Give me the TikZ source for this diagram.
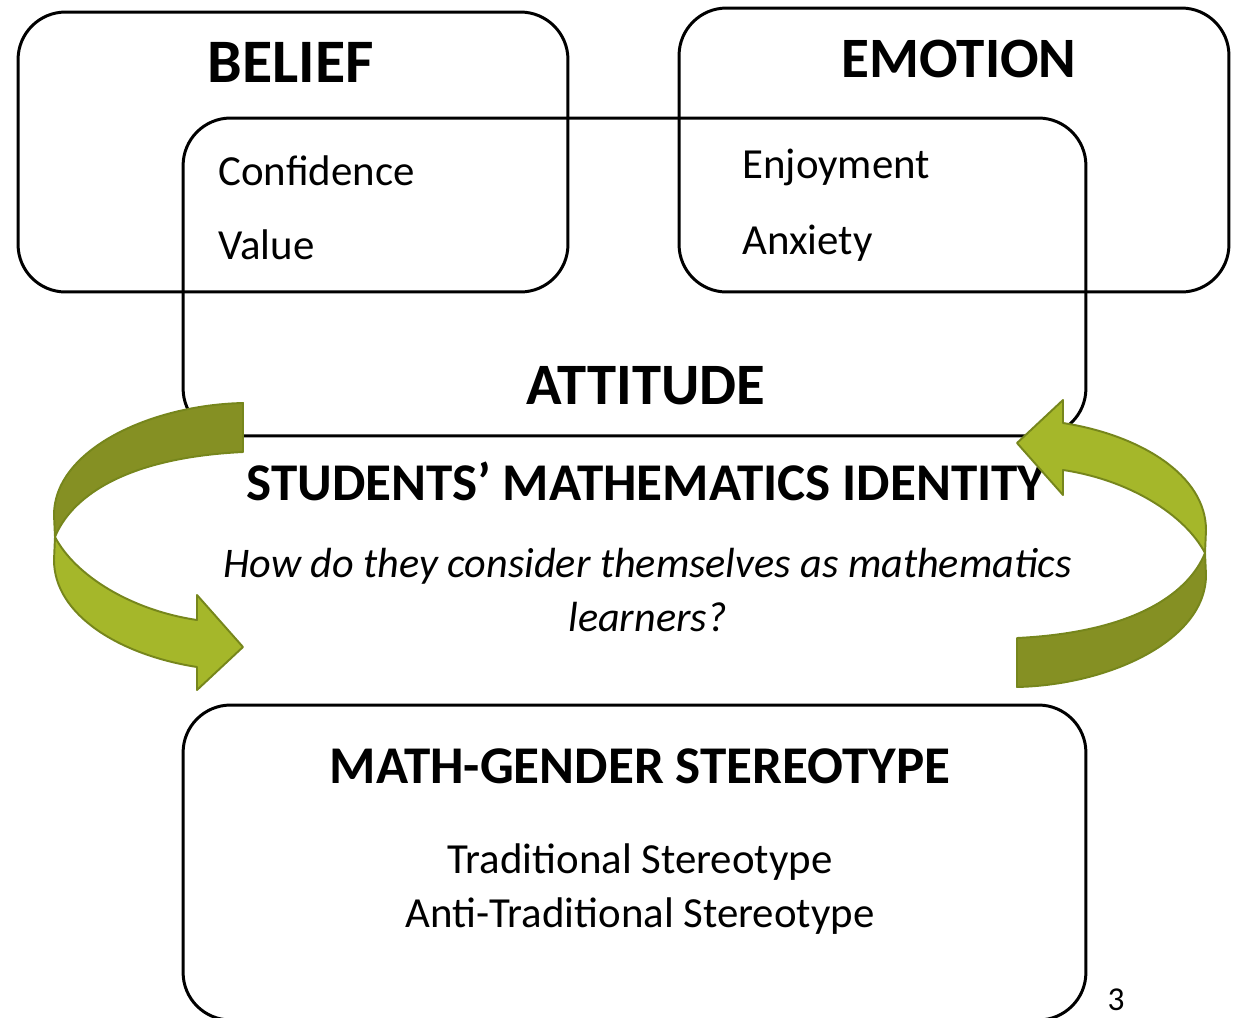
\documentclass[tikz,border=0pt]{standalone}
\usepackage{fontspec}
\setmainfont{Carlito}
\usepackage{xcolor}
\usetikzlibrary{positioning}

\definecolor{olivedark}{RGB}{133,144,35}
\definecolor{olivelight}{RGB}{165,183,42}
\definecolor{oliveedge}{RGB}{118,134,28}

\begin{document}
\begin{tikzpicture}[
    x=0.02cm, y=-0.02cm,
    panel/.style={rectangle, draw=black, line width=1.7pt, rounded corners=0.95cm, inner sep=0pt},
    heading/.style={font=\fontsize{33.4}{36}\selectfont\bfseries, anchor=base, inner sep=0pt},
    subhead/.style={font=\fontsize{30.2}{34}\selectfont\bfseries, anchor=base, inner sep=0pt},
    item/.style={font=\fontsize{24.4}{28}\selectfont, anchor=base west, inner sep=0pt},
    entry/.style={font=\fontsize{24.4}{28}\selectfont, anchor=base, inner sep=0pt},
    bendarrow/.pic={
        % back half of the band, then the front half with the head
        \filldraw[fill=olivedark, draw=oliveedge, line width=1.1pt, line join=round]
            (243,403) .. controls (150,405) and (54,450) .. (54,515) -- (55,537)
            .. controls (70,500) and (120,458) .. (243,452) -- cycle;
        \filldraw[fill=olivelight, draw=oliveedge, line width=1.1pt, line join=round]
            (55,537) -- (54,560) .. controls (54,615) and (120,655) .. (197,667)
            -- (197,690) -- (243,647) -- (197,595) -- (197,620)
            .. controls (130,610) and (75,575) .. (55,537) -- cycle;
    }
]
    \useasboundingbox (0,0) rectangle (1238,1018);

    % boxes
    \node [panel, minimum width=11cm, minimum height=5.6cm] (belief) at (293,152) {};
    \node [panel, minimum width=11cm, minimum height=5.68cm] (emotion) at (954,150) {};
    \node [panel, minimum width=18.06cm, minimum height=6.36cm] (attitude) at (634.5,277) {};
    \node [panel, minimum width=18.06cm, minimum height=6.3cm] (stereotype) at (634.5,862.5) {};

    % titles and entries
    \node [heading, font=\fontsize{35.2}{38}\selectfont\bfseries] (belieftitle) at (290.5,82) {BELIEF};
    \node [heading, font=\fontsize{32.5}{36}\selectfont\bfseries] (emotiontitle) at (959,77) {EMOTION};
    \node [item] (confidence) at (218,185) {Confidence};
    \node [item] (value) at (218,259) {Value};
    \node [item] (enjoyment) at (742,178) {Enjoyment};
    \node [item] (anxiety) at (742,254) {Anxiety};
    \node [heading] (attitudetitle) at (646,404) {ATTITUDE};

    \node [subhead] (identity) at (646,500) {STUDENTS’ MATHEMATICS IDENTITY};
    \node [entry, font=\fontsize{24}{28}\selectfont\itshape] (question) at (647.5,577) {How do they consider themselves as mathematics};
    \node [entry, font=\fontsize{24}{28}\selectfont\itshape] (questionend) at (647.5,631) {learners?};

    \node [subhead] (stereotypetitle) at (640,783) {MATH-GENDER STEREOTYPE};
    \node [entry] (traditional) at (640,873) {Traditional Stereotype};
    \node [entry] (antitraditional) at (640,927) {Anti-Traditional Stereotype};

    \node [entry, font=\fontsize{19}{22}\selectfont] (pagenum) at (1116,1010) {3};

    % cycle arrows
    \pic at (0,0) {bendarrow};
    \pic [rotate=180] at (1260,1090) {bendarrow};
\end{tikzpicture}
\end{document}
